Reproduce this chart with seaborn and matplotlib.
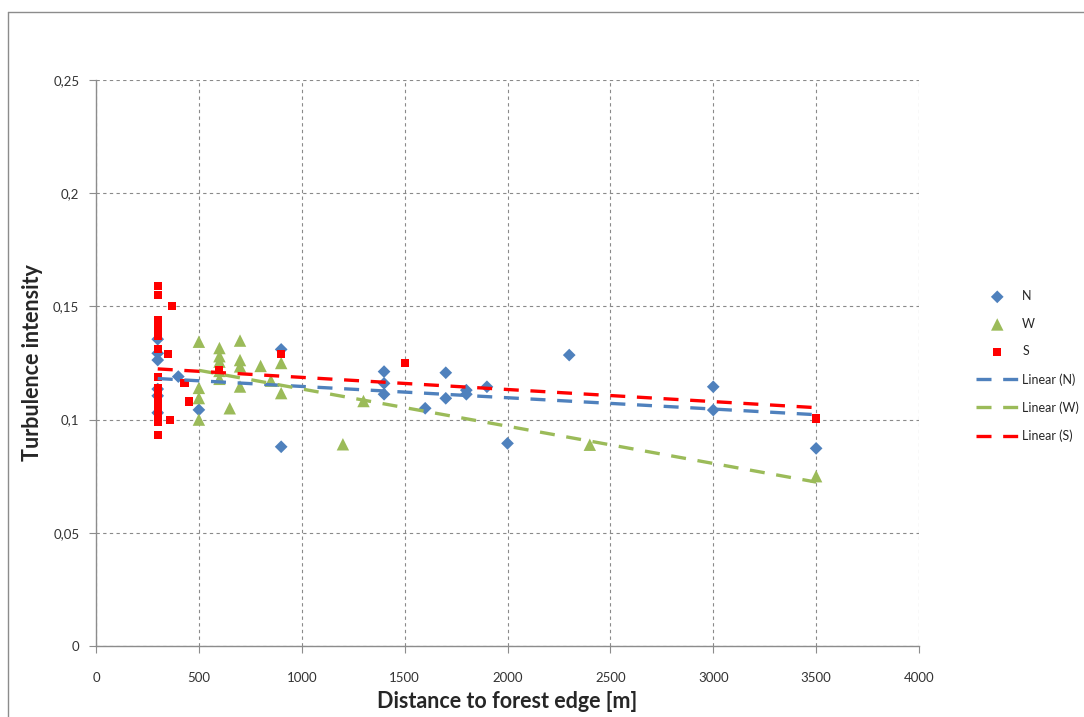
import numpy as np
import pandas as pd
import matplotlib
matplotlib.use("Agg")
import matplotlib.pyplot as plt
from matplotlib.ticker import FuncFormatter
from matplotlib.lines import Line2D
import seaborn as sns

# ---- data ----
n_dist = [300, 300, 300, 300, 300, 300, 400, 500, 900, 900, 1400, 1400, 1400,
          1600, 1700, 1700, 1800, 1800, 1900, 2000, 2300, 3000, 3000, 3500]
n_ti = [0.1355, 0.1293, 0.1263, 0.1135, 0.1105, 0.1030, 0.1190, 0.1043, 0.1310, 0.0880,
        0.1212, 0.1160, 0.1112, 0.1050, 0.1207, 0.1094, 0.1130, 0.1112, 0.1145, 0.0895,
        0.1285, 0.1145, 0.1042, 0.0873]

w_dist = [500, 500, 500, 500, 600, 600, 600, 600, 600, 650, 700, 700, 700, 700,
          800, 850, 900, 900, 1200, 1300, 2400, 3500]
w_ti = [0.1344, 0.1140, 0.1095, 0.1000, 0.1316, 0.1280, 0.1256, 0.1215, 0.1180, 0.1050,
        0.1349, 0.1263, 0.1235, 0.1146, 0.1237, 0.1172, 0.1250, 0.1117, 0.0891, 0.1082,
        0.0889, 0.0750]

s_dist = [300, 300, 300, 300, 300, 300, 300, 300, 300, 300, 300, 300, 300, 300,
          300, 300, 300, 350, 360, 370, 430, 450, 600, 900, 1500, 3500]
s_ti = [0.159, 0.155, 0.144, 0.141, 0.139, 0.137, 0.131, 0.119, 0.114, 0.111,
        0.110, 0.108, 0.106, 0.104, 0.102, 0.099, 0.093, 0.129, 0.100, 0.150,
        0.116, 0.108, 0.122, 0.129, 0.125, 0.1005]

series = ["N", "W", "S"]
x_ticks = [0, 500, 1000, 1500, 2000, 2500, 3000, 3500, 4000]
y_ticks = [0, 0.05, 0.1, 0.15, 0.2, 0.25]

# ---- style ----
sns.set_style("white")
plt.rcParams['font.family'] = ['Lato', 'DejaVu Sans']

colors = {"N": "#4F81BD", "W": "#9BBB59", "S": "#FF0000"}
markers = {"N": "D", "W": "^", "S": "s"}
sizes = {"N": 42, "W": 80, "S": 34}

frames = {
    "N": pd.DataFrame({"dist": n_dist, "ti": n_ti}),
    "W": pd.DataFrame({"dist": w_dist, "ti": w_ti}),
    "S": pd.DataFrame({"dist": s_dist, "ti": s_ti}),
}

fig = plt.figure(figsize=(10.84, 7.17), dpi=100)
ax = fig.add_axes([96/1084, 1 - 646/717, (919 - 96)/1084, (646 - 80)/717])

for k in series:
    sns.scatterplot(data=frames[k], x="dist", y="ti", ax=ax, color=colors[k],
                    marker=markers[k], s=sizes[k], edgecolor="none", zorder=3,
                    label=k)
for k in series:
    sns.regplot(data=frames[k], x="dist", y="ti", ax=ax, scatter=False, ci=None,
                color=colors[k], truncate=True,
                line_kws=dict(linestyle=(0, (4.5, 3.5)), linewidth=2.4, zorder=4),
                label=f"Linear ({k})")

ax.set_xlim(0, 4000)
ax.set_ylim(0, 0.25)
ax.set_xticks(x_ticks)
ax.set_yticks(y_ticks)

def fmt(v, pos):
    s = f"{v:.2f}".rstrip("0").rstrip(".")
    return s.replace(".", ",")

ax.yaxis.set_major_formatter(FuncFormatter(fmt))
ax.xaxis.set_major_formatter(FuncFormatter(lambda v, p: f"{int(v)}"))

ax.grid(True, color="#8a8a8a", linestyle=(0, (3, 3)), linewidth=0.8)
ax.set_axisbelow(True)
for sp in ["top", "right"]:
    ax.spines[sp].set_visible(False)
for sp in ["left", "bottom"]:
    ax.spines[sp].set_color("#8c8c8c")
    ax.spines[sp].set_linewidth(1.0)

ax.tick_params(axis="x", direction="out", length=5, width=0.8, color="#8c8c8c",
               pad=14, labelsize=9.5, labelcolor="#333333", bottom=True)
ax.tick_params(axis="y", direction="out", length=5, width=0.8, color="#8c8c8c",
               pad=7, labelsize=9.5, labelcolor="#333333", left=True)

ax.set_xlabel("Distance to forest edge [m]", fontsize=15.5, fontweight="bold",
              labelpad=5)
ax.set_ylabel("Turbulence intensity", fontsize=15.5, fontweight="bold",
              labelpad=7)

handles, labels = ax.get_legend_handles_labels()
leg = ax.legend(handles, labels, loc="center left",
                bbox_to_anchor=(971/1084, 1 - 366/717),
                bbox_transform=fig.transFigure, frameon=False, fontsize=9,
                labelspacing=1.25, handlelength=3.4, handletextpad=0.3,
                borderaxespad=0)

# outer chart border (top and left edges visible)
fig.add_artist(Line2D([8/1084, 1.0], [1 - 12/717, 1 - 12/717],
                      transform=fig.transFigure, color="#8c8c8c", linewidth=1))
fig.add_artist(Line2D([8/1084, 8/1084], [0.0, 1 - 12/717],
                      transform=fig.transFigure, color="#8c8c8c", linewidth=1))

fig.savefig("out.png", dpi=100, facecolor="white")
